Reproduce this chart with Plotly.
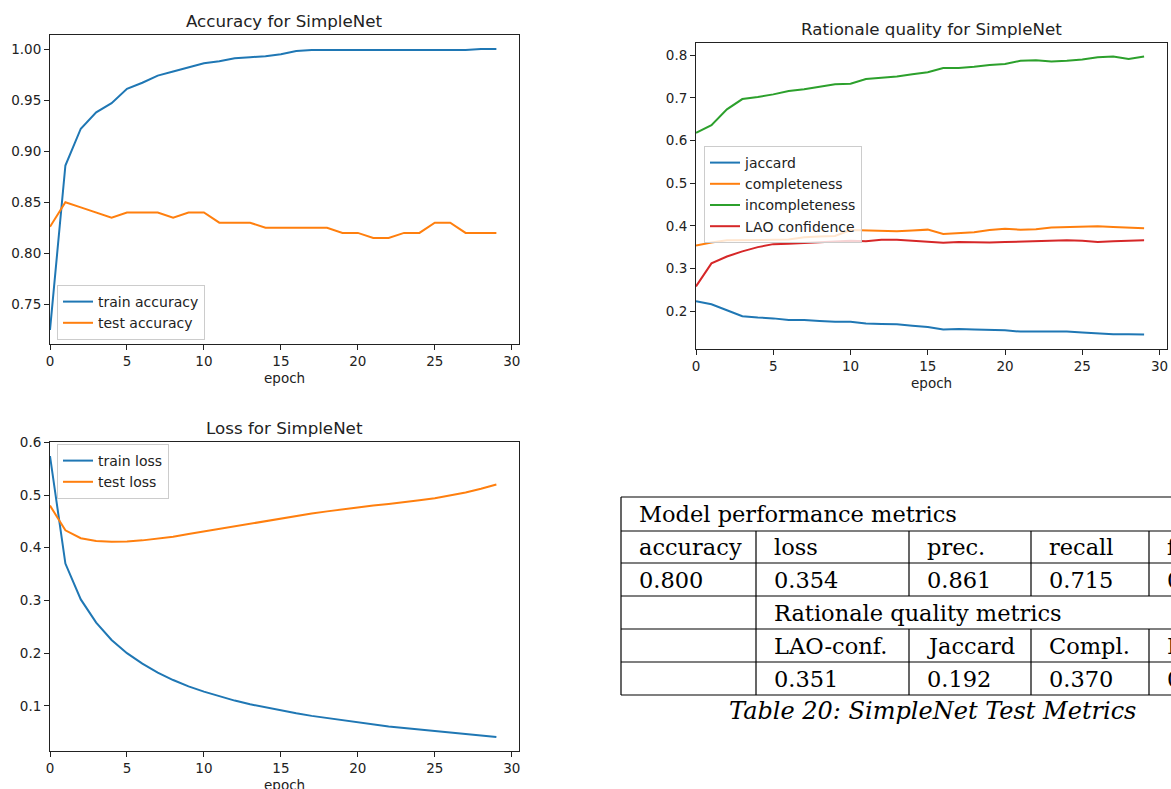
import plotly.graph_objects as go

# ---------------- data ----------------
epochs = list(range(30))

train_acc = [0.725, 0.886, 0.922, 0.938, 0.947, 0.961, 0.967, 0.974, 0.978, 0.982,
             0.986, 0.988, 0.991, 0.992, 0.993, 0.995, 0.998, 0.999, 0.999, 0.999,
             0.999, 0.999, 0.999, 0.999, 0.999, 0.999, 0.999, 0.999, 1.000, 1.000]
test_acc = [0.826, 0.850, 0.845, 0.840, 0.835, 0.840, 0.840, 0.840, 0.835, 0.840,
            0.840, 0.830, 0.830, 0.830, 0.825, 0.825, 0.825, 0.825, 0.825, 0.820,
            0.820, 0.815, 0.815, 0.820, 0.820, 0.830, 0.830, 0.820, 0.820, 0.820]

jaccard = [0.223, 0.216, 0.202, 0.188, 0.185, 0.183, 0.179, 0.179, 0.177, 0.175,
           0.175, 0.171, 0.170, 0.169, 0.166, 0.163, 0.157, 0.158, 0.157, 0.156,
           0.155, 0.152, 0.152, 0.153, 0.152, 0.150, 0.148, 0.146, 0.146, 0.145]
completeness = [0.354, 0.361, 0.366, 0.366, 0.367, 0.367, 0.368, 0.373, 0.375, 0.376,
                0.390, 0.389, 0.387, 0.387, 0.389, 0.391, 0.381, 0.383, 0.385, 0.390,
                0.393, 0.391, 0.392, 0.396, 0.397, 0.397, 0.399, 0.397, 0.396, 0.394]
incompleteness = [0.618, 0.636, 0.673, 0.697, 0.702, 0.708, 0.716, 0.720, 0.726, 0.732,
                  0.733, 0.744, 0.747, 0.750, 0.755, 0.760, 0.770, 0.770, 0.773, 0.777,
                  0.779, 0.787, 0.788, 0.785, 0.787, 0.790, 0.795, 0.797, 0.791, 0.797]
lao_confidence = [0.258, 0.312, 0.328, 0.340, 0.350, 0.357, 0.358, 0.360, 0.361, 0.363,
                  0.365, 0.364, 0.367, 0.367, 0.365, 0.362, 0.360, 0.362, 0.361, 0.361,
                  0.362, 0.363, 0.365, 0.365, 0.366, 0.365, 0.362, 0.364, 0.365, 0.366]

train_loss = [0.574, 0.370, 0.302, 0.258, 0.225, 0.200, 0.180, 0.163, 0.149, 0.137,
              0.127, 0.118, 0.110, 0.103, 0.097, 0.091, 0.086, 0.081, 0.077, 0.072,
              0.068, 0.064, 0.061, 0.058, 0.055, 0.052, 0.049, 0.046, 0.044, 0.041]
test_loss = [0.480, 0.433, 0.418, 0.413, 0.4115, 0.412, 0.414, 0.417, 0.421, 0.426,
             0.431, 0.436, 0.441, 0.446, 0.451, 0.456, 0.461, 0.465, 0.469, 0.473,
             0.477, 0.480, 0.483, 0.486, 0.490, 0.494, 0.499, 0.505, 0.512, 0.520]

acc_ticks = [0.75, 0.80, 0.85, 0.90, 0.95, 1.00]
rat_ticks = [0.2, 0.3, 0.4, 0.5, 0.6, 0.7, 0.8]
loss_ticks = [0.1, 0.2, 0.3, 0.4, 0.5, 0.6]
epoch_ticks = [0, 5, 10, 15, 20, 25, 30]

table_title_1 = "Model performance metrics"
perf_names = ["accuracy", "loss", "prec.", "recall", "f1"]
perf_values = ["0.800", "0.354", "0.861", "0.715", "0.781"]
table_title_2 = "Rationale quality metrics"
rat_names = ["", "LAO-conf.", "Jaccard", "Compl.", "Incompl."]
rat_values = ["", "0.351", "0.192", "0.370", "0"]
caption = "Table 20: SimpleNet Test Metrics"

# ---------------- layout helpers ----------------
W, H = 1171, 789
def px(x):
    return x / W
def py(y):
    return 1 - y / H

BLUE, ORANGE, GREEN, RED = "#1f77b4", "#ff7f0e", "#2ca02c", "#d62728"
SANS = "DejaVu Sans"
SERIF = "DejaVu Serif"
INK = "#222222"

def yrange(*series):
    vals = [v for s in series for v in s]
    lo, hi = min(vals), max(vals)
    pad = 0.05 * (hi - lo)
    return [lo - pad, hi + pad]

xr = [0, epochs[-1] + 0.05 * (epochs[-1] - epochs[0])]

fig = go.Figure()

def add_line(x, y, name, color, xa, ya, legend):
    fig.add_trace(go.Scatter(x=x, y=y, name=name, mode="lines",
                             line=dict(color=color, width=2),
                             xaxis=xa, yaxis=ya, legend=legend))

add_line(epochs, train_acc, "train accuracy", BLUE, "x", "y", "legend")
add_line(epochs, test_acc, "test accuracy", ORANGE, "x", "y", "legend")
add_line(epochs, jaccard, "jaccard", BLUE, "x2", "y2", "legend2")
add_line(epochs, completeness, "completeness", ORANGE, "x2", "y2", "legend2")
add_line(epochs, incompleteness, "incompleteness", GREEN, "x2", "y2", "legend2")
add_line(epochs, lao_confidence, "LAO confidence", RED, "x2", "y2", "legend2")
add_line(epochs, train_loss, "train loss", BLUE, "x3", "y3", "legend3")
add_line(epochs, test_loss, "test loss", ORANGE, "x3", "y3", "legend3")

def xaxis(dom, anchor):
    return dict(domain=dom, anchor=anchor, range=xr, tickvals=epoch_ticks,
                showline=True, mirror=True, linecolor=INK, linewidth=1,
                ticks="outside", ticklen=5, tickcolor=INK, showgrid=False,
                zeroline=False, tickfont=dict(family=SANS, size=13.5, color=INK),
                automargin=False)

def yaxis(dom, anchor, rng, tv, fmt):
    return dict(domain=dom, anchor=anchor, range=rng, tickvals=tv, tickformat=fmt,
                showline=True, mirror=True, linecolor=INK, linewidth=1,
                ticks="outside", ticklen=5, tickcolor=INK, showgrid=False,
                zeroline=False, tickfont=dict(family=SANS, size=13.5, color=INK),
                automargin=False)

# plot frames (pixels)
acc_box = (50, 518.7, 35, 344)
rat_box = (696, 1166.5, 42.5, 348.5)
loss_box = (50, 518.7, 442, 751)

def dom(box):
    x0, x1, y0, y1 = box
    return [px(x0), px(x1)], [py(y1), py(y0)]

ax_d, ay_d = dom(acc_box)
rx_d, ry_d = dom(rat_box)
lx_d, ly_d = dom(loss_box)

legend_style = dict(bgcolor="rgba(255,255,255,0.8)", bordercolor="#cccccc",
                    borderwidth=1, font=dict(family=SANS, size=14, color=INK),
                    xanchor="left", itemwidth=30, tracegroupgap=0)

fig.update_layout(
    width=W, height=H,
    margin=dict(l=0, r=0, t=0, b=0),
    paper_bgcolor="white", plot_bgcolor="white",
    showlegend=True,
    xaxis=xaxis(ax_d, "y"),
    yaxis=yaxis(ay_d, "x", yrange(train_acc, test_acc), acc_ticks, ".2f"),
    xaxis2=xaxis(rx_d, "y2"),
    yaxis2=yaxis(ry_d, "x2", yrange(jaccard, completeness, incompleteness, lao_confidence), rat_ticks, ".1f"),
    xaxis3=xaxis(lx_d, "y3"),
    yaxis3=yaxis(ly_d, "x3", yrange(train_loss, test_loss), loss_ticks, ".1f"),
    legend=dict(legend_style, x=px(57), y=py(340), yanchor="bottom"),
    legend2=dict(legend_style, x=px(704), y=py(146), yanchor="top"),
    legend3=dict(legend_style, x=px(57), y=py(444), yanchor="top"),
)

annotations = []
def text(x, y, t, size, family=SANS, xanchor="center", color=INK, italic=False):
    s = "<i>" + t + "</i>" if italic else t
    annotations.append(dict(x=px(x), y=py(y), xref="paper", yref="paper", text=s,
                            showarrow=False, xanchor=xanchor, yanchor="middle",
                            font=dict(family=family, size=size, color=color)))

# chart titles and axis labels
for box, title in [(acc_box, "Accuracy for SimpleNet"),
                   (rat_box, "Rationale quality for SimpleNet"),
                   (loss_box, "Loss for SimpleNet")]:
    cx = (box[0] + box[1]) / 2
    text(cx, box[2] - 14, title, 16.7)
    text(cx, box[3] + 34, "epoch", 13.5)

# ---------------- table ----------------
col_x = [621, 756, 909, 1031, 1149]
row_y = [497, 531, 563, 596, 629, 662, 695]
pad = 16
shapes = []
def seg(x0, y0, x1, y1):
    shapes.append(dict(type="line", xref="paper", yref="paper",
                       x0=px(x0), y0=py(y0), x1=px(x1), y1=py(y1),
                       line=dict(color="black", width=1.2)))

for y in row_y:
    seg(col_x[0], y, W + 5, y)
seg(col_x[0], row_y[0], col_x[0], row_y[-1])
seg(col_x[1], row_y[1], col_x[1], row_y[-1])
for cx in col_x[2:]:
    seg(cx, row_y[1], cx, row_y[3])
    seg(cx, row_y[4], cx, row_y[6])

def mid(i):
    return (row_y[i] + row_y[i + 1]) / 2

TS = 22.5
text(col_x[0] + pad, mid(0), table_title_1, TS, SERIF, "left", "black")
for cx, name, val in zip(col_x, perf_names, perf_values):
    text(cx + pad, mid(1), name, TS, SERIF, "left", "black")
    text(cx + pad, mid(2), val, TS, SERIF, "left", "black")
text(col_x[1] + pad, mid(3), table_title_2, TS, SERIF, "left", "black")
for cx, name, val in zip(col_x, rat_names, rat_values):
    if name:
        text(cx + pad, mid(4), name, TS, SERIF, "left", "black")
    if val:
        text(cx + pad, mid(5), val, TS, SERIF, "left", "black")
text(932.5, 711, caption, 24, SERIF, "center", "black", italic=True)

fig.update_layout(annotations=annotations, shapes=shapes)

fig.write_html("out.html", config={"displayModeBar": False},
               post_script="document.body.style.margin='0';document.body.style.overflow='hidden';")
